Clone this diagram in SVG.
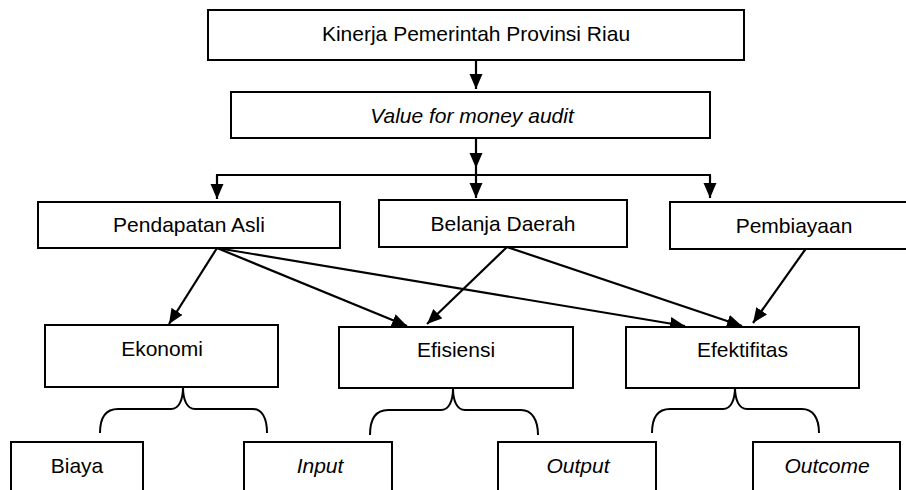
<svg xmlns="http://www.w3.org/2000/svg" width="906" height="490" viewBox="0 0 906 490">
<defs>
<marker id="ah" markerUnits="userSpaceOnUse" markerWidth="16" markerHeight="14" refX="15" refY="6.5" orient="auto">
<path d="M0,0 L15,6.5 L0,13 z" fill="#000"/>
</marker>
<style>
.box{fill:#fff;stroke:#000;stroke-width:2}
.t{font-family:"Liberation Sans",Arial,sans-serif;font-size:21px;fill:#000;text-anchor:middle}
.i{font-style:italic}
.c{fill:none;stroke:#000;stroke-width:2}
.a{fill:none;stroke:#000;stroke-width:2.2;marker-end:url(#ah)}
</style>
</defs>
<rect width="906" height="490" fill="#fff"/>
<g id="connectors">
<line class="a" x1="476" y1="60" x2="476" y2="89"/>
<line class="a" x1="476" y1="138" x2="476" y2="168"/>
<polyline class="c" points="217,198 217,175 710,175 710,198"/>
<line class="a" x1="217" y1="175" x2="217" y2="199"/>
<line class="a" x1="476" y1="168" x2="476" y2="198"/>
<line class="a" x1="710" y1="175" x2="710" y2="198"/>
<line class="a" x1="217" y1="248" x2="169" y2="324"/>
<line class="a" x1="217" y1="248" x2="407" y2="326"/>
<line class="a" x1="217" y1="248" x2="685" y2="326"/>
<line class="a" x1="507" y1="247" x2="427" y2="324"/>
<line class="a" x1="507" y1="247" x2="742" y2="326"/>
<line class="a" x1="807" y1="247" x2="753" y2="323"/>
<path class="c" d="M100 433 C100 418 105 409 118 409 L171 409 C179 409 183 400 183 387 C183 400 187 409 195 409 L253 409 C262 409 267 418 267 433"/>
<path class="c" d="M370 435 C370 420 375 410 388 410 L441 410 C449 410 453 401 453 388 C453 401 457 410 465 410 L521 410 C532 410 538 420 538 435"/>
<path class="c" d="M652 433 C652 418 657 409 670 409 L723 409 C731 409 735 400 735 387 C735 400 739 409 747 409 L802 409 C813 409 819 418 819 433"/>
</g>
<g id="kinerja"><rect class="box" x="208" y="10" width="536" height="50"/><text class="t" x="476" y="41">Kinerja Pemerintah Provinsi Riau</text></g>
<g id="vfm"><rect class="box" x="231" y="92" width="479" height="46"/><text class="t i" x="472" y="123">Value for money audit</text></g>
<g id="pendapatan"><rect class="box" x="38" y="202" width="302" height="46"/><text class="t" x="189" y="232">Pendapatan Asli</text></g>
<g id="belanja"><rect class="box" x="379" y="200" width="248" height="47"/><text class="t" x="503" y="231">Belanja Daerah</text></g>
<g id="pembiayaan"><rect class="box" x="670" y="202" width="250" height="47"/><text class="t" x="794" y="233">Pembiayaan</text></g>
<g id="ekonomi"><rect class="box" x="45" y="325" width="233" height="62"/><text class="t" x="162" y="356">Ekonomi</text></g>
<g id="efisiensi"><rect class="box" x="339" y="327" width="234" height="61"/><text class="t" x="456" y="357">Efisiensi</text></g>
<g id="efektifitas"><rect class="box" x="626" y="327" width="233" height="61"/><text class="t" x="742.5" y="357">Efektifitas</text></g>
<g id="biaya"><rect class="box" x="11" y="442" width="132" height="60"/><text class="t" x="77" y="473">Biaya</text></g>
<g id="input"><rect class="box" x="244" y="442" width="148" height="60"/><text class="t i" x="320" y="473">Input</text></g>
<g id="output"><rect class="box" x="498" y="442" width="158" height="60"/><text class="t i" x="578" y="473">Output</text></g>
<g id="outcome"><rect class="box" x="753" y="442" width="147" height="60"/><text class="t i" x="827" y="473">Outcome</text></g>
</svg>
